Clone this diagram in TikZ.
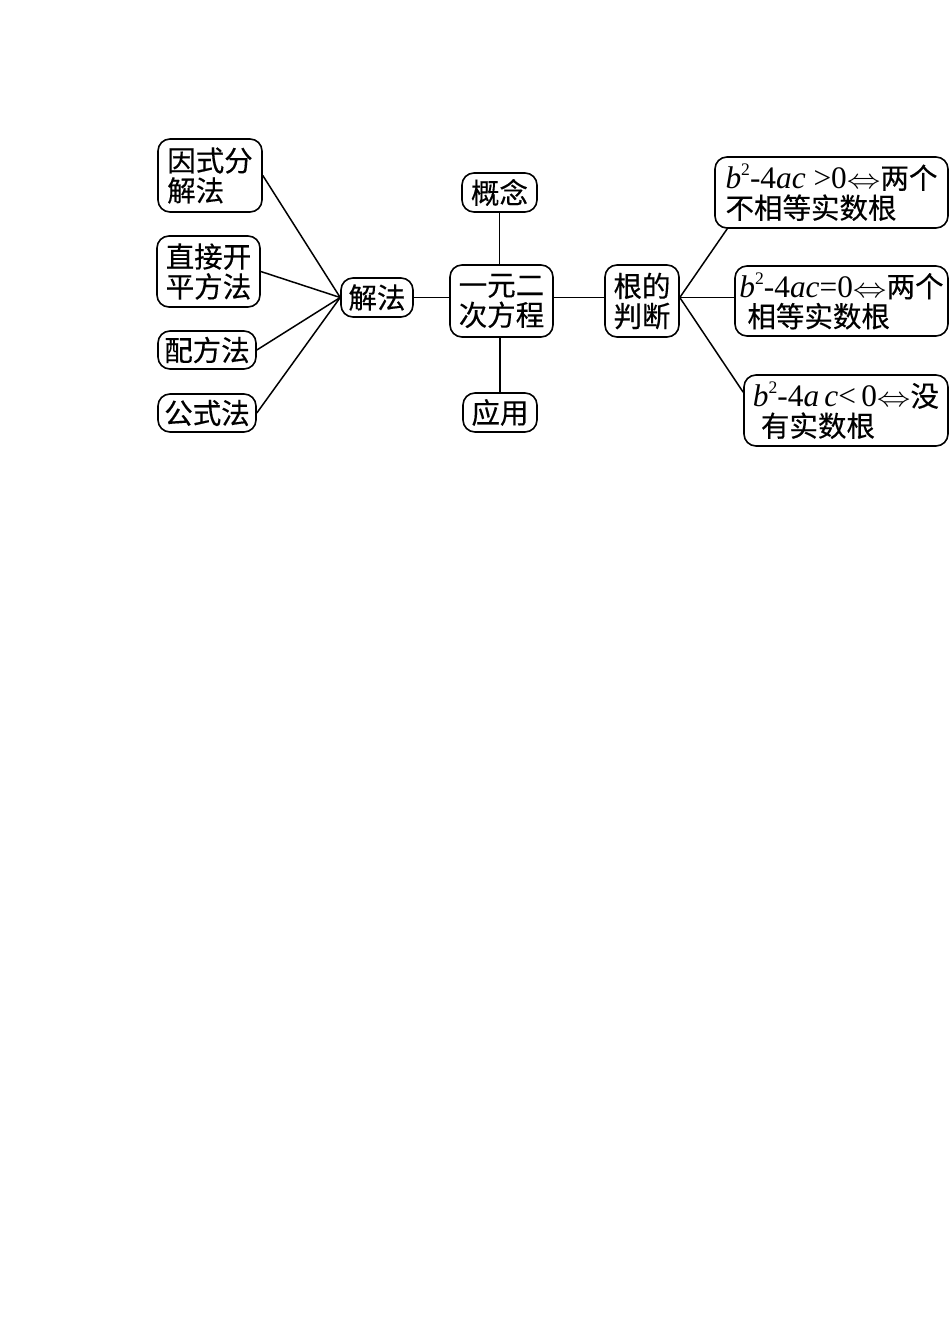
\documentclass[tikz,border=0pt]{standalone}
\usepackage{fontspec}
\setmainfont{Noto Sans CJK SC}[RawFeature={embolden=0.35}]
\newfontfamily\tmfont{Liberation Serif}[Scale=1.1]
\usepackage{graphicx}
\usetikzlibrary{calc}
\newcommand{\iffarrow}{\scalebox{1.35}[1.1]{$\Leftrightarrow$}}
\newcommand{\bsq}{{\tmfont\itshape b}\raisebox{0.45em}{\fontsize{16pt}{16pt}\selectfont\tmfont 2}}
\begin{document}
\begin{tikzpicture}[x=1pt,y=-1pt,
  font=\fontsize{28.5pt}{30pt}\selectfont,
  box/.style={draw, rounded corners=12pt, line width=1.6pt, inner sep=0pt, align=left},
  conn/.style={line width=1.5pt}]
\useasboundingbox (0,0) rectangle (950,1344);
\fill[white] (0,0) rectangle (950,1344);
% left boxes
\node[box, minimum width=104pt, minimum height=73pt] (yinshi) at (210,175.5) {因式分\\解法};
\node[box, minimum width=103pt, minimum height=71pt] (zhijie) at (208.5,271.5) {直接开\\平方法};
\node[box, minimum width=98pt, minimum height=38pt] (peifang) at (207,350) {配方法};
\node[box, minimum width=98pt, minimum height=38pt] (gongshi) at (207,413) {公式法};
\node[box, minimum width=72pt, minimum height=39pt] (jiefa) at (377,297.5) {解法};
% centre
\node[box, minimum width=103pt, minimum height=72pt] (main) at (501.5,301) {一元二\\次方程};
\node[box, minimum width=75pt, minimum height=39pt] (gainian) at (499.5,192.5) {概念};
\node[box, minimum width=74pt, minimum height=39pt] (yingyong) at (500,412.5) {应用};
% right
\node[box, minimum width=74pt, minimum height=72pt] (gen) at (642,301) {根的\\判断};
\node[box, minimum width=233pt, minimum height=71pt] (r1) at (831.5,192.5)
  {\bsq{\tmfont -4{\itshape ac} >0}\iffarrow 两个\\不相等实数根};
\node[box, minimum width=213pt, minimum height=70pt] (r2) at (841.5,301)
  {\bsq{\tmfont -4{\itshape ac}=0}\iffarrow 两个\\\hspace*{8pt}相等实数根};
\node[box, minimum width=204pt, minimum height=71pt] (r3) at (846,410.5)
  {\bsq{\tmfont -4{\itshape a\,c}<\,0}\iffarrow 没\\\hspace*{8pt}有实数根};
% connectors
\coordinate (J) at (jiefa.west);
\draw[conn] (yinshi.east) -- (J);
\draw[conn] (zhijie.east) -- (J);
\draw[conn] (peifang.east) -- (J);
\draw[conn] (gongshi.east) -- (J);
\draw[conn] (jiefa.east) -- (jiefa.east -| main.west);
\draw[conn] (gainian.south) -- (gainian.south |- main.north);
\draw[conn] (yingyong.north) -- (yingyong.north |- main.south);
\coordinate (G) at (gen.east |- jiefa.east);
\draw[conn] (jiefa.east -| main.east) -- (jiefa.east -| gen.west);
\draw[conn] (G) -- ($(r1.south west)+(13,0)$);
\draw[conn] (G) -- (G -| r2.west);
\draw[conn] (G) -- ($(r3.north west)+(0,18)$);
\end{tikzpicture}
\end{document}
